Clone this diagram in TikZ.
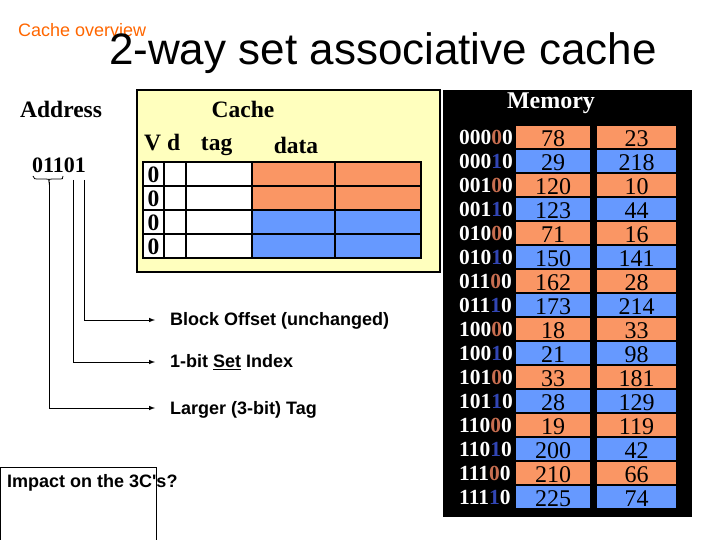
\documentclass[tikz,border=0pt]{standalone}
\usepackage{fontspec}
\setmainfont{Liberation Serif}
\newfontfamily\sansf{Liberation Sans}
\begin{document}
\begin{tikzpicture}[x=1pt,y=-1pt,
  sb/.style={font=\sansf\bfseries\fontsize{18}{20}\selectfont,anchor=west,inner sep=0},
  rb/.style={font=\bfseries\fontsize{23.5}{25}\selectfont,inner sep=0},
  cell/.style={draw=black,line width=2.5pt},
  arr/.style={line width=1pt,-latex}]
\definecolor{or}{RGB}{250,150,100}
\definecolor{bl}{RGB}{102,153,255}
\definecolor{yel}{RGB}{255,255,190}
\definecolor{obit}{RGB}{200,110,80}
\definecolor{bbit}{RGB}{50,70,180}
\useasboundingbox (0,0) rectangle (720,540);
\node[anchor=west,inner sep=0,text=orange!80!red,font=\sansf\fontsize{18}{20}\selectfont] (ov) at (18,30) {Cache overview};
\node[inner sep=0,font=\sansf\fontsize{44}{46}\selectfont] (title) at (383,53) {2-way set associative cache};
\node[rb,anchor=west] (addr) at (20,109) {Address};
\node[rb,anchor=west,font=\bfseries\fontsize{22}{24}\selectfont] (bits) at (32,165) {01101};
% brace
\draw[line width=0.8pt] (33,176) .. controls (34,179) .. (40,179) -- (46,179) .. controls (49,179) .. (49,182) .. controls (49,179) .. (52,179) -- (58,179) .. controls (63,179) .. (63,176);
\coordinate (t0) at (49,182);
\coordinate (s0) at (73,180);
\coordinate (b0) at (84,180);
\node[sb] (bo) at (170,321) {Block Offset (unchanged)};
\node[sb] (si) at (170,362) {1-bit \underline{Set} Index};
\node[sb] (tg) at (170,410) {Larger (3-bit) Tag};
\coordinate (t1) at (49,408); \coordinate (s1) at (73,362); \coordinate (b1) at (84,320);
\draw[arr] (t0) -- (t1) -- (155,408);
\draw[arr] (s0) -- (s1) -- (155,362);
\draw[arr] (b0) -- (b1) -- (155,320);
% cache
\draw[fill=yel,line width=2pt] (137,90) rectangle (440,272);
\node[rb] (ch) at (243,109) {Cache};
\node[rb,anchor=west] (vd) at (144,145) {V d\;\;\,\,tag};
\node[rb] (dt) at (296,145) {data};
\foreach \i in {0,...,3}{
  \pgfmathsetmacro{\ya}{162+24*\i}
  \pgfmathsetmacro{\yb}{186+24*\i}
  \ifnum\i<2 \def\cc{or}\else\def\cc{bl}\fi
  \draw[cell,fill=white] (143,\ya) rectangle (164,\yb);
  \node[rb] at (153.5,\ya+13) {0};
  \draw[cell,fill=white] (164,\ya) rectangle (186,\yb);
  \draw[cell,fill=white] (186,\ya) rectangle (252,\yb);
  \draw[cell,fill=\cc] (252,\ya) rectangle (335,\yb);
  \draw[cell,fill=\cc] (335,\ya) rectangle (421,\yb);
}
% memory
\fill[black] (443,90) rectangle (692,517);
\node[rb,text=white,font=\bfseries\fontsize{24}{26}\selectfont] (mem) at (551,103) {Memory};
\def\ca{{78,29,120,123,71,150,162,173,18,21,33,28,19,200,210,225}}
\def\cb{{23,218,10,44,16,141,28,214,33,98,181,129,119,42,66,74}}
\foreach \i in {0,...,15}{
  \pgfmathsetmacro{\y}{137+24*\i}
  \pgfmathtruncatemacro{\bA}{mod(floor(\i/4),2)}
  \pgfmathtruncatemacro{\bB}{mod(floor(\i/2),2)}
  \pgfmathtruncatemacro{\bC}{mod(\i,2)}
  \pgfmathtruncatemacro{\bD}{floor(\i/8)}
  \pgfmathtruncatemacro{\va}{\ca[\i]}
  \pgfmathtruncatemacro{\vb}{\cb[\i]}
  \ifnum\bC=0 \def\cc{or}\def\bc{obit}\else\def\cc{bl}\def\bc{bbit}\fi
  \node[inner sep=0,anchor=west,text=white,font=\bfseries\fontsize{21.5}{24}\selectfont] at (459,\y) {\bD\bA\bB\textcolor{\bc}{\bC}0};
  \fill[\cc] (516,\y-11) rectangle (590,\y+11);
  \fill[\cc] (597,\y-11) rectangle (676,\y+11);
  \node[inner sep=0,font=\fontsize{24}{26}\selectfont] at (553,\y+2) {\va};
  \node[inner sep=0,font=\fontsize{24}{26}\selectfont] at (636.5,\y+2) {\vb};
}
% impact box
\draw[line width=1pt] (0,541) -- (0,467) -- (156,467) -- (156,541);
\node[sb] (imp) at (7,483) {Impact on the 3C's?};
\end{tikzpicture}
\end{document}
